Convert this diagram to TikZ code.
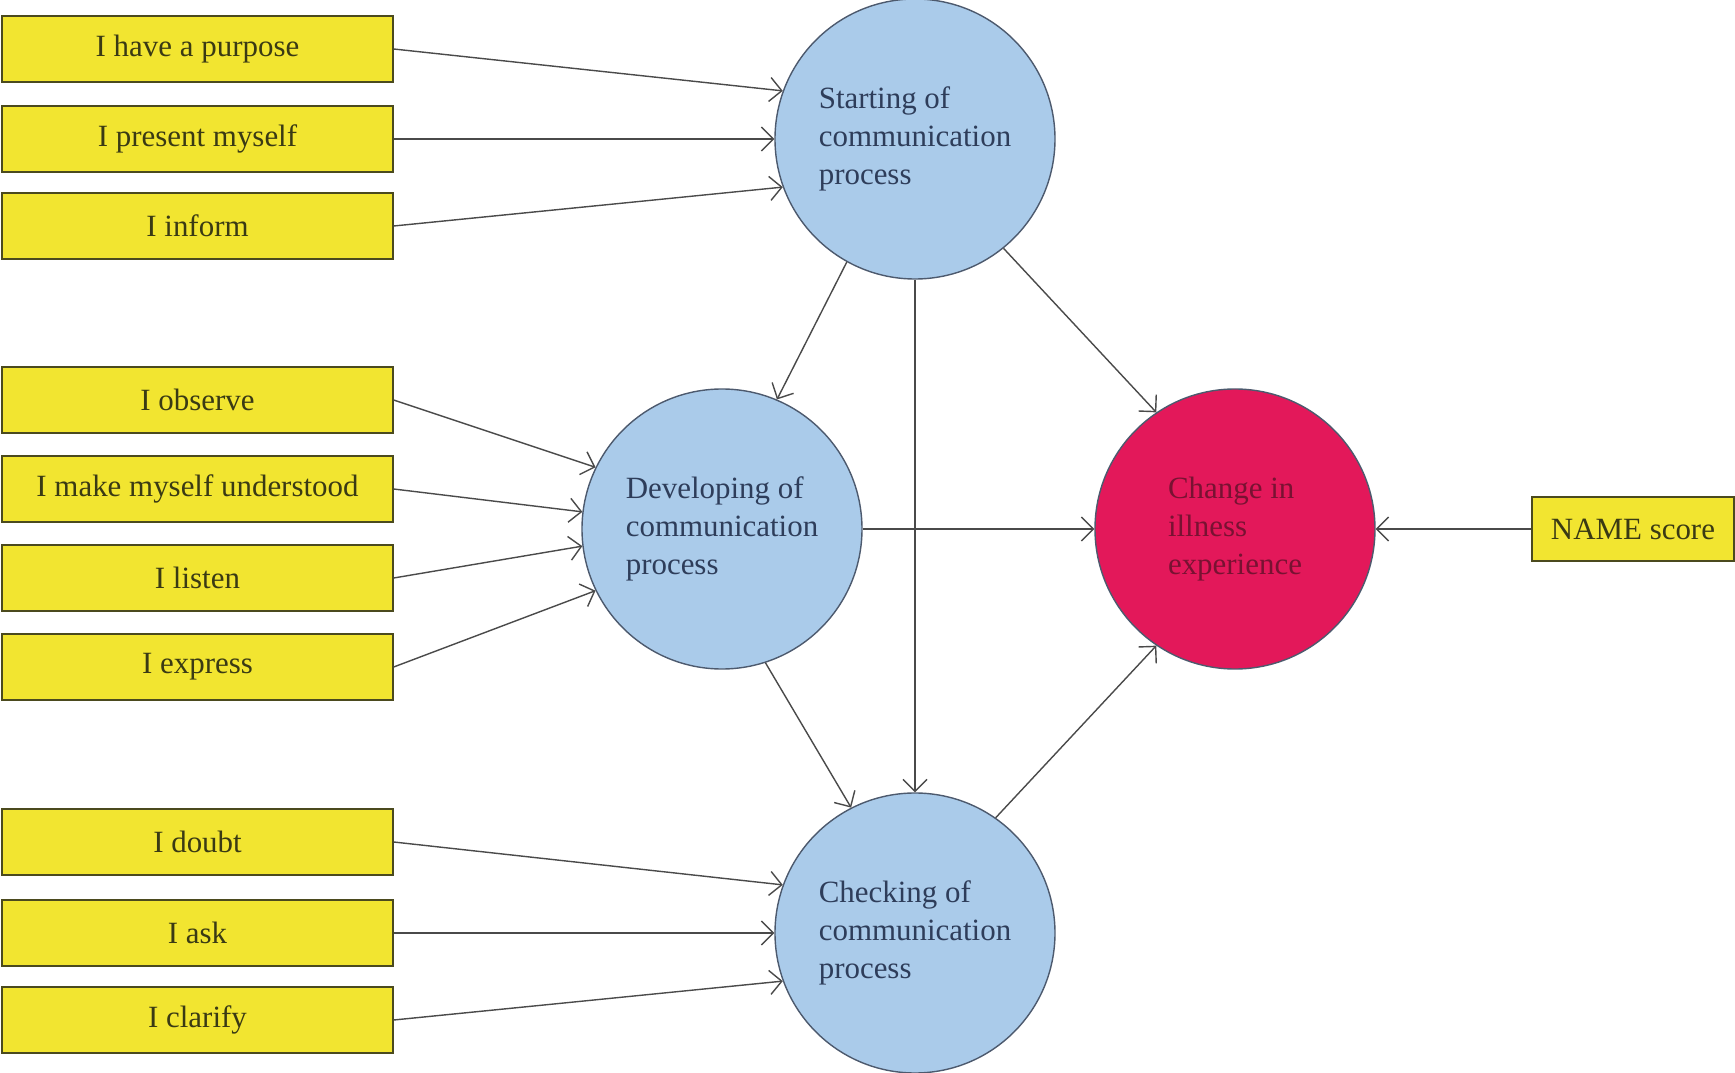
\documentclass[tikz,border=0pt]{standalone}
\usepackage{fontspec}
\setmainfont{Liberation Serif}
\usetikzlibrary{arrows.meta}
\begin{document}
\begin{tikzpicture}[x=0.1mm,y=-0.1mm,font=\fontsize{8.8}{10.8}\selectfont,>={Straight Barb[length=1.2mm,width=2.4mm]}]
  \definecolor{ink}{HTML}{4A4A4A}
  \definecolor{itemfill}{HTML}{F2E530}
  \definecolor{itemline}{HTML}{4B4A1E}
  \definecolor{itemtext}{HTML}{3A3A14}
  \definecolor{stagefill}{HTML}{AACBEA}
  \definecolor{stageline}{HTML}{4D5A6E}
  \definecolor{stagetext}{HTML}{2E3D5A}
  \definecolor{outfill}{HTML}{E3185A}
  \definecolor{outtext}{HTML}{781232}
  \tikzset{item/.style={draw=itemline,fill=itemfill,text=itemtext,minimum width=3.91cm,minimum height=0.66cm,inner sep=0pt},
    stage/.style={circle,draw=stageline,fill=stagefill,text=stagetext,minimum size=2.8cm,align=left,inner sep=0pt},
    link/.style={->,ink,line width=0.4pt}}
  \useasboundingbox (0,0) rectangle (1735,1073);
  % circles
  \node[stage] (start) at (915,139) {Starting of\\communication\\process};
  \node[stage] (develop) at (722,529) {Developing of\\communication\\process};
  \node[stage] (check) at (915,933) {Checking of\\communication\\process};
  \node[stage,fill=outfill,text=outtext] (change) at (1235,529) {Change in\\illness\\experience};
  % items
  \node[item] (purpose) at (197.5,49) {I have a purpose};
  \node[item] (present) at (197.5,139) {I present myself};
  \node[item] (inform) at (197.5,226) {I inform};
  \node[item] (observe) at (197.5,400) {I observe};
  \node[item] (understood) at (197.5,489) {I make myself understood};
  \node[item] (listen) at (197.5,578) {I listen};
  \node[item] (express) at (197.5,667) {I express};
  \node[item] (doubt) at (197.5,842) {I doubt};
  \node[item] (ask) at (197.5,933) {I ask};
  \node[item] (clarify) at (197.5,1020) {I clarify};
  \node[item,minimum width=2.02cm,minimum height=0.64cm] (name) at (1633,529) {NAME score};
  % arrows
  \draw[link] (purpose.east) -- (start.160);
  \draw[link] (present.east) -- (start.west);
  \draw[link] (inform.east) -- (start.200);
  \draw[link] (observe.east) -- (develop.154);
  \draw[link] (understood.east) -- (develop.173);
  \draw[link] (listen.east) -- (develop.187);
  \draw[link] (express.east) -- (develop.206);
  \draw[link] (doubt.east) -- (check.160);
  \draw[link] (ask.east) -- (check.west);
  \draw[link] (clarify.east) -- (check.200);
  \draw[link] (start.241) -- (develop.67);
  \draw[link] (start.south) -- (check.north);
  \draw[link] (start.309) -- (change.124);
  \draw[link] (develop.east) -- (change.west);
  \draw[link] (develop.288) -- (check.117);
  \draw[link] (check.55) -- (change.236);
  \draw[link] (name.west) -- (change.east);
\end{tikzpicture}
\end{document}
